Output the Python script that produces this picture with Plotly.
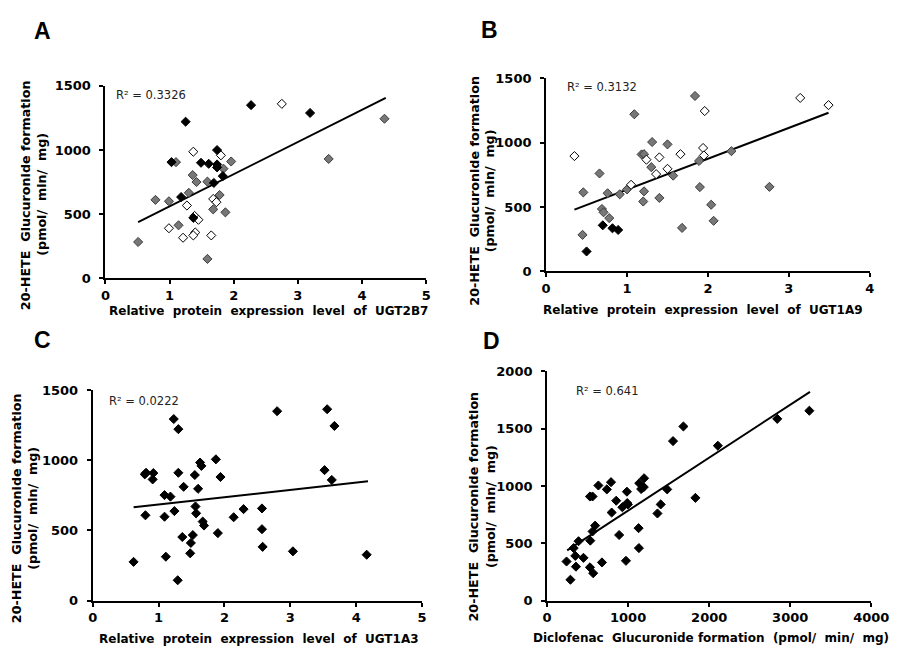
import plotly.graph_objects as go

W, H = 919, 665

# ---------------- Panel A : UGT2B7 ----------------
a_black_x = [2.27, 1.25, 3.19, 1.03, 1.49, 1.61, 1.74, 1.74, 1.74, 1.83, 1.69, 1.18, 1.37]
a_black_y = [1350, 1221, 1289, 906, 901, 893, 1000, 888, 865, 797, 744, 634, 472]
a_gray_x = [4.35, 3.48, 1.96, 1.10, 1.84, 1.36, 1.42, 1.59, 1.30, 1.78, 0.78, 0.99, 1.68, 1.87, 1.14, 0.51, 1.59]
a_gray_y = [1244, 931, 911, 906, 855, 805, 751, 754, 667, 650, 612, 601, 538, 515, 414, 284, 152]
a_open_x = [2.75, 1.37, 1.80, 1.27, 1.68, 1.73, 1.39, 1.45, 0.99, 1.40, 1.37, 1.21, 1.65]
a_open_y = [1360, 987, 959, 568, 619, 594, 487, 457, 391, 358, 335, 317, 335]
a_trend_x = [0.51, 4.37]
a_trend_y = [439, 1406]

# ---------------- Panel B : UGT1A9 ----------------
b_black_x = [0.50, 0.70, 0.82, 0.89]
b_black_y = [155, 358, 335, 322]
b_gray_x = [1.84, 1.09, 1.31, 1.50, 1.18, 1.21, 2.29, 1.89, 1.30, 1.57, 0.66, 1.00, 0.46, 0.76,
            0.91, 1.21, 1.90, 2.76, 1.40, 1.20, 2.04, 0.69, 0.71, 0.78, 2.07, 1.68, 0.45]
b_gray_y = [1363, 1221, 1005, 987, 909, 911, 934, 858, 810, 744, 761, 637, 614, 607,
            599, 622, 655, 657, 571, 543, 518, 485, 459, 414, 393, 338, 284]
b_open_x = [3.14, 3.49, 1.96, 1.94, 1.95, 1.66, 1.40, 1.24, 0.35, 1.50, 1.36, 1.05]
b_open_y = [1348, 1292, 1246, 959, 901, 911, 886, 868, 896, 797, 756, 673]
b_trend_x = [0.35, 3.49]
b_trend_y = [480, 1233]

# ---------------- Panel C : UGT1A3 ----------------
c_x = [0.62, 0.80, 0.79, 0.81, 0.92, 0.91, 1.09, 1.18, 1.09, 1.11, 1.23, 1.30, 1.30, 1.38,
       1.24, 1.36, 1.29, 1.48, 1.49, 1.52, 1.55, 1.60, 1.56, 1.57, 1.63, 1.65, 1.67, 1.69,
       1.87, 1.94, 1.90, 2.14, 2.29, 2.57, 2.57, 2.58, 2.80, 3.04, 3.56, 3.67, 3.52, 3.63, 4.16]
c_y = [276, 608, 900, 911, 909, 864, 752, 741, 598, 313, 1294, 1222, 911, 811,
       638, 453, 145, 337, 411, 467, 895, 797, 671, 622, 984, 960, 563, 535,
       1007, 881, 481, 594, 652, 657, 509, 383, 1350, 351, 1364, 1245, 930, 860, 327]
c_trend_x = [0.62, 4.18]
c_trend_y = [666, 850]

# ---------------- Panel D : Diclofenac ----------------
d_x = [240, 288, 328, 348, 356, 388, 449, 529, 561, 533, 529, 569, 561, 593, 633, 677, 737,
       789, 797, 853, 889, 929, 973, 985, 989, 997, 1129, 1133, 1137, 1161, 1193, 1197, 1362,
       1402, 1482, 1554, 1682, 1830, 2107, 2840, 3236]
d_y = [341, 182, 458, 390, 296, 518, 373, 908, 908, 523, 290, 239, 603, 654, 1004, 333, 970,
       1033, 768, 871, 572, 814, 347, 950, 851, 839, 632, 458, 1024, 973, 990, 1067, 760,
       839, 970, 1391, 1519, 896, 1351, 1585, 1656]
d_trend_x = [248, 3244]
d_trend_y = [438, 1821]

r2_labels = ["R² = 0.3326", "R² = 0.3132", "R² = 0.0222", "R² = 0.641"]
x_titles = ["Relative  protein  expression  level  of  UGT2B7",
            "Relative  protein  expression  level  of  UGT1A9",
            "Relative  protein  expression  level  of  UGT1A3",
            "Diclofenac  Glucuronide formation  (pmol/  min/  mg)"]
y_title_1 = "20-HETE  Glucuronide formation"
y_title_2 = "(pmol/  min/  mg)"
panel_letters = ["A", "B", "C", "D"]
ticks_15 = [0, 500, 1000, 1500]
ticks_20 = [0, 500, 1000, 1500, 2000]
ticks_5 = [0, 1, 2, 3, 4, 5]
ticks_4 = [0, 1, 2, 3, 4]
ticks_4000 = [0, 1000, 2000, 3000, 4000]


def px(x):
    return x / W


def py(y):
    return 1 - y / H


BOLD = "DejaVu Sans"
fig = go.Figure()

black_m = dict(symbol="diamond", size=7, color="black", line=dict(color="black", width=1))
gray_m = dict(symbol="diamond", size=7, color="#777777", line=dict(color="#3c3c3c", width=1))
open_m = dict(symbol="diamond", size=7, color="white", line=dict(color="black", width=1))
line_s = dict(color="black", width=2)


def add(x, y, m, ax):
    fig.add_trace(go.Scatter(x=x, y=y, mode="markers", marker=m, xaxis="x" + ax,
                             yaxis="y" + ax, showlegend=False, hoverinfo="skip"))


def addline(x, y, ax):
    fig.add_trace(go.Scatter(x=x, y=y, mode="lines", line=line_s, xaxis="x" + ax,
                             yaxis="y" + ax, showlegend=False, hoverinfo="skip"))


# A
addline(a_trend_x, a_trend_y, "")
add(a_gray_x, a_gray_y, gray_m, "")
add(a_open_x, a_open_y, open_m, "")
add(a_black_x, a_black_y, black_m, "")
# B
addline(b_trend_x, b_trend_y, "2")
add(b_gray_x, b_gray_y, gray_m, "2")
add(b_open_x, b_open_y, open_m, "2")
add(b_black_x, b_black_y, black_m, "2")
# C
addline(c_trend_x, c_trend_y, "3")
add(c_x, c_y, black_m, "3")
# D
addline(d_trend_x, d_trend_y, "4")
add(d_x, d_y, black_m, "4")

tickfont = dict(family=BOLD, size=13, color="black")


def bold(vals):
    return ["<b>%d</b>" % v for v in vals]


def xax(dom, rng, vals, anchor):
    return dict(domain=dom, range=rng, tickvals=vals, ticktext=bold(vals), showgrid=False,
                zeroline=False, showline=True, linecolor="black", linewidth=2,
                ticks="outside", ticklen=4, tickwidth=2, tickcolor="black", tickfont=tickfont,
                anchor=anchor, fixedrange=True, ticklabelstandoff=0)


def yax(dom, rng, vals, anchor):
    return dict(domain=dom, range=rng, tickvals=vals, ticktext=bold(vals), showgrid=False,
                zeroline=False, showline=True, linecolor="black", linewidth=2,
                ticks="outside", ticklen=4, tickwidth=2, tickcolor="black", tickfont=tickfont,
                anchor=anchor, fixedrange=True, ticklabelstandoff=6)


# plot-area pixel boxes (left, right, top, bottom)
boxes = {
    "": (103, 432, 80.7, 277.7),
    "2": (555, 887, 73, 270.5),
    "3": (90, 427.7, 392, 607.3),
    "4": (556, 888.5, 372.7, 607.3),
}
ranges = {"": ([0, 5], [0, 1500], ticks_5, ticks_15), "2": ([0, 4], [0, 1500], ticks_4, ticks_15),
          "3": ([0, 5], [0, 1500], ticks_5, ticks_15), "4": ([0, 4000], [0, 2000], ticks_4000, ticks_20)}

layout = dict(width=W, height=H, margin=dict(l=0, r=0, t=0, b=0),
              paper_bgcolor="white", plot_bgcolor="white", showlegend=False)
for k, (l, r, t, b) in boxes.items():
    xr, yr, xv, yv = ranges[k]
    layout["xaxis" + k] = xax([px(l), px(r)], xr, xv, "y" + k)
    layout["yaxis" + k] = yax([py(b), py(t)], yr, yv, "x" + k)
fig.update_layout(**layout)

ann = []
# panel letters
for letter, (x, y) in zip(panel_letters, [(38, 25), (497, 24), (38, 341), (499, 342)]):
    ann.append(dict(text="<b>%s</b>" % letter, x=px(x), y=py(y), xref="paper", yref="paper",
                    showarrow=False, xanchor="center", yanchor="middle",
                    font=dict(family="Liberation Sans", size=23, color="black")))
# R2 labels
for lab, (x, y) in zip(r2_labels, [(112, 90), (574, 82), (105, 403), (584, 393)]):
    ann.append(dict(text=lab, x=px(x), y=py(y), xref="paper", yref="paper", showarrow=False,
                    xanchor="left", yanchor="middle",
                    font=dict(family="DejaVu Sans", size=11.5, color="#222222")))
# x titles
for t, (x, y), fs in zip(x_titles, [(270, 311.5), (716, 310.5), (261, 646.5), (724, 645.5)],
                         [12, 12, 12, 12]):
    ann.append(dict(text="<b>%s</b>" % t, x=px(x), y=py(y), xref="paper", yref="paper",
                    showarrow=False, xanchor="center", yanchor="middle",
                    font=dict(family=BOLD, size=fs, color="black")))
# y titles (two lines)
for (x1, x2, yc) in [(21, 38, 192), (482, 497, 188), (12, 28, 513), (480, 498, 511)]:
    for t, x in [(y_title_1, x1), (y_title_2, x2)]:
        ann.append(dict(text="<b>%s</b>" % t, x=px(x), y=py(yc), xref="paper", yref="paper",
                        showarrow=False, xanchor="center", yanchor="middle", textangle=-90,
                        font=dict(family=BOLD, size=12.7, color="black")))
fig.update_layout(annotations=ann)

fig.write_html("out.html", config={"displayModeBar": False},
               post_script="document.body.style.margin='0';document.body.style.padding='0';")
